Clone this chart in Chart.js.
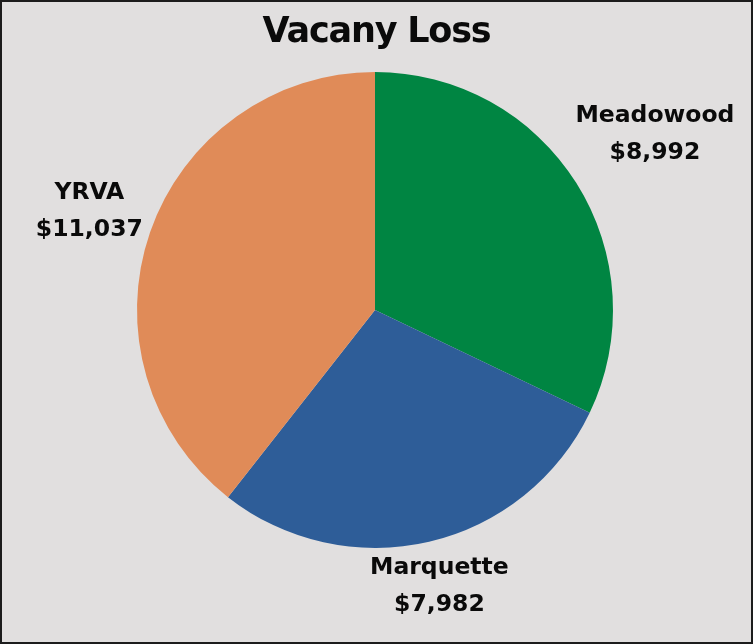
<!DOCTYPE html>
<html>
<head>
<meta charset="utf-8">
<script src="https://cdn.jsdelivr.net/npm/chart.js@4"></script>
<style>
  html, body { margin: 0; padding: 0; background: #ffffff; }
  #wrap {
    width: 753px; height: 644px; box-sizing: border-box;
    border: 2px solid #1c1c1c; background: #e1dfdf;
  }
  canvas { display: block; }
</style>
</head>
<body>
<div id="wrap"><canvas id="vacancyChart" width="749" height="640"></canvas></div>
<script>
// datos del gráfico
const properties = ['Meadowood', 'Marquette', 'YRVA'];
const vacancyLoss = [8992, 7982, 11037];
const sliceColors = ['#008542', '#2e5d98', '#e08b58'];
const labelDistance = [1.39, 1.19, 1.27]; // distancia de la etiqueta respecto al radio

// dibuja el título y las etiquetas fuera del pastel
const outsideLabels = {
    id: 'outsideLabels',
    afterDraw(chart) {
        const ctx = chart.ctx;
        ctx.save();
        ctx.fillStyle = '#0a0a0a';
        ctx.textAlign = 'center';
        ctx.textBaseline = 'middle';
        ctx.font = 'bold 35px "DejaVu Sans", sans-serif';
        ctx.letterSpacing = '-1.2px';
        ctx.fillText('Vacany Loss', chart.width / 2, 31);

        ctx.font = 'bold 23.5px "DejaVu Sans", sans-serif';
        ctx.letterSpacing = '0px';
        chart.getDatasetMeta(0).data.forEach((arc, i) => {
            const mid = (arc.startAngle + arc.endAngle) / 2;
            const r = arc.outerRadius * labelDistance[i];
            const x = arc.x + Math.cos(mid) * r;
            const y = arc.y + Math.sin(mid) * r;
            ctx.fillText(properties[i], x, y - 18);
            ctx.fillText('$' + vacancyLoss[i].toLocaleString('en-US'), x, y + 19);
        });
        ctx.restore();
    }
};

new Chart(document.getElementById('vacancyChart').getContext('2d'), {
    type: 'pie',
    data: {
        labels: properties,
        datasets: [{
            data: vacancyLoss,
            backgroundColor: sliceColors,
            borderWidth: 0
        }]
    },
    options: {
        responsive: false,
        animation: false,
        layout: { padding: { top: 70, bottom: 94, left: 135, right: 138 } },
        plugins: {
            legend: { display: false },
            tooltip: { enabled: false }
        }
    },
    plugins: [outsideLabels]
});
</script>
</body>
</html>
